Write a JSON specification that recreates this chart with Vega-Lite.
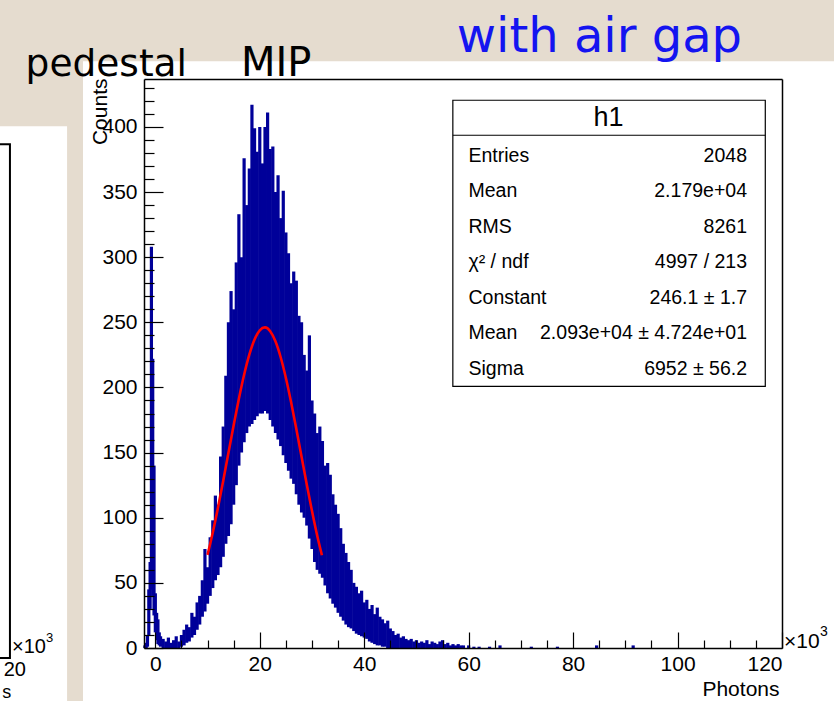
{
  "$schema": "https://vega.github.io/schema/vega-lite/v6.json",
  "width": 638,
  "height": 569,
  "autosize": {"type": "none"},
  "padding": {"left": 144, "top": 79, "right": 52, "bottom": 53},
  "background": "#e5dccf",
  "data": {"values": [{}]},
  "config": {
    "view": {"stroke": null},
    "axis": {"grid": false, "domainColor": "#000", "tickColor": "#000", "labelColor": "#000", "labelFont": "Liberation Sans", "titleFont": "Liberation Sans", "labelFontSize": 21, "titleFontSize": 21, "titleFontWeight": "normal", "titleColor": "#000", "domainWidth": 1.5, "tickWidth": 1.2}
  },
  "resolve": {"axis": {"x": "independent", "y": "independent"}},
  "layer": [
    {
      "mark": {"type": "rect", "fill": "white"},
      "encoding": {
        "x": {"datum": -13.85, "type": "quantitative", "axis": {"orient": "top", "zindex": 1, "labels": false, "ticks": false, "domain": true, "title": null}},
        "x2": {"datum": 140},
        "y": {"datum": 450.4, "type": "quantitative", "axis": {"orient": "right", "zindex": 1, "labels": false, "ticks": false, "domain": true, "title": null}},
        "y2": {"datum": -50}
      }
    },
    {
      "mark": {"type": "rect", "fill": "white"},
      "encoding": {
        "x": {"datum": -40, "type": "quantitative", "axis": null},
        "x2": {"datum": -16.9},
        "y": {"datum": 400.5, "type": "quantitative", "axis": null},
        "y2": {"datum": -50}
      }
    },
    {
      "mark": {"type": "rect", "filled": false, "stroke": "#000", "strokeWidth": 2},
      "encoding": {
        "x": {"datum": -40, "type": "quantitative", "axis": null},
        "x2": {"datum": -27.84},
        "y": {"datum": 386.7, "type": "quantitative", "axis": null},
        "y2": {"datum": -7.7}
      }
    },
    {
      "data": {"values": [
        {"x": -2.0, "lo": 0, "hi": 2}, {"x": -1.75, "lo": 0, "hi": 4}, {"x": -1.5, "lo": 1, "hi": 10}, {"x": -1.25, "lo": 10, "hi": 45},
        {"x": -1.0, "lo": 30, "hi": 66}, {"x": -0.75, "lo": 45, "hi": 308}, {"x": -0.5, "lo": 40, "hi": 222}, {"x": -0.25, "lo": 25, "hi": 140},
        {"x": 0.0, "lo": 12, "hi": 42}, {"x": 0.25, "lo": 6, "hi": 27}, {"x": 0.5, "lo": 3, "hi": 22}, {"x": 0.75, "lo": 2, "hi": 12},
        {"x": 1.0, "lo": 1, "hi": 9}, {"x": 1.5, "lo": 0, "hi": 7}, {"x": 2.0, "lo": 0, "hi": 5}, {"x": 2.5, "lo": 0, "hi": 8},
        {"x": 3.0, "lo": 0, "hi": 4}, {"x": 3.5, "lo": 0, "hi": 6}, {"x": 4.0, "lo": 0, "hi": 9}, {"x": 4.5, "lo": 0, "hi": 5},
        {"x": 5.0, "lo": 1, "hi": 10}, {"x": 5.5, "lo": 2, "hi": 14}, {"x": 6.0, "lo": 4, "hi": 18}, {"x": 6.5, "lo": 5, "hi": 16},
        {"x": 7.0, "lo": 8, "hi": 27}, {"x": 7.5, "lo": 10, "hi": 24}, {"x": 8.0, "lo": 14, "hi": 35}, {"x": 8.5, "lo": 18, "hi": 40},
        {"x": 9.0, "lo": 24, "hi": 52}, {"x": 9.5, "lo": 28, "hi": 76}, {"x": 10.0, "lo": 34, "hi": 62}, {"x": 10.5, "lo": 40, "hi": 85},
        {"x": 11.0, "lo": 46, "hi": 98}, {"x": 11.5, "lo": 52, "hi": 117}, {"x": 12.0, "lo": 56, "hi": 110}, {"x": 12.5, "lo": 62, "hi": 147},
        {"x": 13.0, "lo": 70, "hi": 170}, {"x": 13.5, "lo": 80, "hi": 209}, {"x": 14.0, "lo": 86, "hi": 250}, {"x": 14.5, "lo": 95, "hi": 274},
        {"x": 15.0, "lo": 110, "hi": 260}, {"x": 15.5, "lo": 125, "hi": 296}, {"x": 16.0, "lo": 140, "hi": 333}, {"x": 16.5, "lo": 150, "hi": 300},
        {"x": 17.0, "lo": 158, "hi": 376}, {"x": 17.5, "lo": 165, "hi": 340}, {"x": 18.0, "lo": 170, "hi": 368}, {"x": 18.5, "lo": 172, "hi": 417},
        {"x": 19.0, "lo": 175, "hi": 399}, {"x": 19.5, "lo": 178, "hi": 381}, {"x": 20.0, "lo": 180, "hi": 400}, {"x": 20.5, "lo": 180, "hi": 372},
        {"x": 21.0, "lo": 182, "hi": 400}, {"x": 21.5, "lo": 180, "hi": 411}, {"x": 22.0, "lo": 175, "hi": 383}, {"x": 22.5, "lo": 170, "hi": 385},
        {"x": 23.0, "lo": 165, "hi": 350}, {"x": 23.5, "lo": 160, "hi": 363}, {"x": 24.0, "lo": 155, "hi": 330}, {"x": 24.5, "lo": 148, "hi": 351},
        {"x": 25.0, "lo": 142, "hi": 319}, {"x": 25.5, "lo": 136, "hi": 303}, {"x": 26.0, "lo": 130, "hi": 280}, {"x": 26.5, "lo": 126, "hi": 289},
        {"x": 27.0, "lo": 118, "hi": 282}, {"x": 27.5, "lo": 110, "hi": 255}, {"x": 28.0, "lo": 104, "hi": 250}, {"x": 28.5, "lo": 100, "hi": 225},
        {"x": 29.0, "lo": 94, "hi": 213}, {"x": 29.5, "lo": 84, "hi": 240}, {"x": 30.0, "lo": 76, "hi": 190}, {"x": 30.5, "lo": 66, "hi": 180},
        {"x": 31.0, "lo": 60, "hi": 165}, {"x": 31.5, "lo": 57, "hi": 170}, {"x": 32.0, "lo": 54, "hi": 159}, {"x": 32.5, "lo": 48, "hi": 140},
        {"x": 33.0, "lo": 42, "hi": 142}, {"x": 33.5, "lo": 38, "hi": 133}, {"x": 34.0, "lo": 34, "hi": 118}, {"x": 34.5, "lo": 31, "hi": 110},
        {"x": 35.0, "lo": 27, "hi": 103}, {"x": 35.5, "lo": 24, "hi": 92}, {"x": 36.0, "lo": 21, "hi": 80}, {"x": 36.5, "lo": 18, "hi": 73},
        {"x": 37.0, "lo": 16, "hi": 66}, {"x": 37.5, "lo": 15, "hi": 60}, {"x": 38.0, "lo": 13, "hi": 50}, {"x": 38.5, "lo": 11, "hi": 47},
        {"x": 39.0, "lo": 10, "hi": 42}, {"x": 39.5, "lo": 9, "hi": 44}, {"x": 40.0, "lo": 8, "hi": 35}, {"x": 40.5, "lo": 7, "hi": 37},
        {"x": 41.0, "lo": 5, "hi": 30}, {"x": 41.5, "lo": 4, "hi": 33}, {"x": 42.0, "lo": 3, "hi": 26}, {"x": 42.5, "lo": 2, "hi": 31},
        {"x": 43.0, "lo": 2, "hi": 24}, {"x": 43.5, "lo": 1, "hi": 22}, {"x": 44.0, "lo": 1, "hi": 19}, {"x": 44.5, "lo": 0, "hi": 21},
        {"x": 45.0, "lo": 0, "hi": 15}, {"x": 45.5, "lo": 0, "hi": 13}, {"x": 46.0, "lo": 0, "hi": 10}, {"x": 46.5, "lo": 0, "hi": 11},
        {"x": 47.0, "lo": 0, "hi": 8}, {"x": 47.5, "lo": 0, "hi": 9}, {"x": 48.0, "lo": 0, "hi": 7}, {"x": 48.5, "lo": 0, "hi": 6},
        {"x": 49.0, "lo": 0, "hi": 7}, {"x": 49.5, "lo": 0, "hi": 5}, {"x": 50.0, "lo": 0, "hi": 6}, {"x": 50.5, "lo": 0, "hi": 4},
        {"x": 51.0, "lo": 0, "hi": 5}, {"x": 51.5, "lo": 0, "hi": 4}, {"x": 52.0, "lo": 0, "hi": 6}, {"x": 52.5, "lo": 0, "hi": 3},
        {"x": 53.0, "lo": 0, "hi": 5}, {"x": 53.5, "lo": 0, "hi": 4}, {"x": 54.0, "lo": 0, "hi": 3}, {"x": 54.5, "lo": 0, "hi": 5},
        {"x": 55.0, "lo": 0, "hi": 6}, {"x": 55.5, "lo": 0, "hi": 3}, {"x": 56.0, "lo": 0, "hi": 4}, {"x": 56.5, "lo": 0, "hi": 2},
        {"x": 57.0, "lo": 0, "hi": 3}, {"x": 57.5, "lo": 0, "hi": 2}, {"x": 58.0, "lo": 0, "hi": 3}, {"x": 58.5, "lo": 0, "hi": 2},
        {"x": 59.0, "lo": 0, "hi": 2}, {"x": 60.0, "lo": 0, "hi": 2}, {"x": 61.0, "lo": 0, "hi": 1}, {"x": 62.0, "lo": 0, "hi": 1},
        {"x": 64.0, "lo": 0, "hi": 1}, {"x": 66.0, "lo": 0, "hi": 2}, {"x": 72.0, "lo": 0, "hi": 1}, {"x": 77.0, "lo": 0, "hi": 1},
        {"x": 84.5, "lo": 0, "hi": 2}, {"x": 91.5, "lo": 0, "hi": 2}
      ]},
      "mark": {"type": "rule", "color": "#000099", "strokeWidth": 3.2, "strokeCap": "butt"},
      "encoding": {
        "x": {"field": "x", "type": "quantitative", "scale": {"domain": [-2.17, 120], "nice": false, "zero": false},
          "axis": {"orient": "bottom", "zindex": 1, "values": [0, 20, 40, 60, 80, 100, 120], "tickSize": -16, "labelPadding": 21, "domain": true,
            "title": "Photons", "titleAnchor": "end", "titleAlign": "right", "titleBaseline": "middle", "titleX": 635, "titleY": 41}},
        "y": {"field": "lo", "type": "quantitative", "scale": {"domain": [0, 436.8], "nice": false, "zero": false},
          "axis": {"orient": "left", "zindex": 1, "values": [0, 50, 100, 150, 200, 250, 300, 350, 400], "tickSize": -19, "labelPadding": 26, "domain": true,
            "title": "Counts", "titleAngle": 270, "titleAlign": "right", "titleBaseline": "middle", "titleX": -44, "titleY": -1}},
        "y2": {"field": "hi"}
      }
    },
    {
      "data": {"values": [
        {"x": 10, "y": 71.5}, {"x": 11, "y": 88.7}, {"x": 12, "y": 107.8}, {"x": 13, "y": 128.4}, {"x": 14, "y": 149.8},
        {"x": 15, "y": 171.0}, {"x": 16, "y": 191.4}, {"x": 17, "y": 209.8}, {"x": 18, "y": 225.2}, {"x": 19, "y": 236.8},
        {"x": 20, "y": 243.9}, {"x": 21, "y": 246.1}, {"x": 22, "y": 243.2}, {"x": 23, "y": 235.4}, {"x": 24, "y": 223.2},
        {"x": 25, "y": 207.3}, {"x": 26, "y": 188.6}, {"x": 27, "y": 168.1}, {"x": 28, "y": 146.8}, {"x": 29, "y": 125.5},
        {"x": 30, "y": 105.1}, {"x": 31, "y": 86.2}, {"x": 31.9, "y": 71.2}
      ]},
      "mark": {"type": "line", "color": "#ff0000", "strokeWidth": 2.6, "interpolate": "monotone"},
      "encoding": {
        "x": {"field": "x", "type": "quantitative",
          "axis": {"orient": "bottom", "zindex": 1, "values": [5, 10, 15, 25, 30, 35, 45, 50, 55, 65, 70, 75, 85, 90, 95, 105, 110, 115], "tickSize": -8, "labels": false, "domain": false, "title": null}},
        "y": {"field": "y", "type": "quantitative",
          "axis": {"orient": "left", "zindex": 1, "values": [10, 20, 30, 40, 60, 70, 80, 90, 110, 120, 130, 140, 160, 170, 180, 190, 210, 220, 230, 240, 260, 270, 280, 290, 310, 320, 330, 340, 360, 370, 380, 390, 410, 420, 430], "tickSize": -10, "labels": false, "domain": false, "title": null}}
      }
    },
    {
      "mark": {"type": "rect", "fill": "white", "stroke": "#000", "strokeWidth": 1.2},
      "encoding": {
        "x": {"datum": 56.97, "type": "quantitative", "axis": null},
        "x2": {"datum": 116.8},
        "y": {"datum": 420.5, "type": "quantitative", "axis": null},
        "y2": {"datum": 200.9}
      }
    },
    {
      "mark": {"type": "rule", "color": "#000", "strokeWidth": 1.2},
      "encoding": {
        "x": {"datum": 56.97, "type": "quantitative", "axis": null},
        "x2": {"datum": 116.8},
        "y": {"datum": 393.6, "type": "quantitative", "axis": null}
      }
    },
    {
      "mark": {"type": "text", "text": "h1", "font": "Liberation Sans", "fontSize": 27, "baseline": "middle", "align": "center", "color": "#000"},
      "encoding": {
        "x": {"datum": 86.78, "type": "quantitative", "axis": null},
        "y": {"datum": 407.2, "type": "quantitative", "axis": null}
      }
    },
    {
      "mark": {"type": "text", "text": ["Entries", "Mean", "RMS", "χ² / ndf", "Constant", "Mean", "Sigma"], "lineHeight": 35.43, "font": "Liberation Sans", "fontSize": 19.5, "baseline": "middle", "align": "left", "color": "#000"},
      "encoding": {
        "x": {"datum": 59.96, "type": "quantitative", "axis": null},
        "y": {"datum": 377.7, "type": "quantitative", "axis": null}
      }
    },
    {
      "mark": {"type": "text", "text": ["2048", "2.179e+04", "8261", "4997 / 213", "246.1 ± 1.7", "2.093e+04 ± 4.724e+01", "6952 ± 56.2"], "lineHeight": 35.43, "font": "Liberation Sans", "fontSize": 19.5, "baseline": "middle", "align": "right", "color": "#000"},
      "encoding": {
        "x": {"datum": 113.3, "type": "quantitative", "axis": null},
        "y": {"datum": 377.7, "type": "quantitative", "axis": null}
      }
    },
    {
      "mark": {"type": "text", "text": "×10", "font": "Liberation Sans", "fontSize": 21, "baseline": "middle", "align": "left", "dx": 2, "dy": -6, "color": "#000"},
      "encoding": {
        "x": {"datum": 120, "type": "quantitative", "axis": null},
        "y": {"datum": 0, "type": "quantitative", "axis": null}
      }
    },
    {
      "mark": {"type": "text", "text": "3", "font": "Liberation Sans", "fontSize": 14, "baseline": "middle", "align": "left", "dx": 38, "dy": -16, "color": "#000"},
      "encoding": {
        "x": {"datum": 120, "type": "quantitative", "axis": null},
        "y": {"datum": 0, "type": "quantitative", "axis": null}
      }
    },
    {
      "mark": {"type": "text", "text": "×10", "font": "Liberation Sans", "fontSize": 20, "baseline": "middle", "align": "left", "color": "#000"},
      "encoding": {
        "x": {"datum": -27.45, "type": "quantitative", "axis": null},
        "y": {"datum": 0.8, "type": "quantitative", "axis": null}
      }
    },
    {
      "mark": {"type": "text", "text": "3", "font": "Liberation Sans", "fontSize": 13, "baseline": "middle", "align": "left", "dx": 34, "dy": -9, "color": "#000"},
      "encoding": {
        "x": {"datum": -27.45, "type": "quantitative", "axis": null},
        "y": {"datum": 0.8, "type": "quantitative", "axis": null}
      }
    },
    {
      "mark": {"type": "text", "text": "20", "font": "Liberation Sans", "fontSize": 20, "baseline": "middle", "align": "center", "color": "#000"},
      "encoding": {
        "x": {"datum": -26.9, "type": "quantitative", "axis": null},
        "y": {"datum": -16.6, "type": "quantitative", "axis": null}
      }
    },
    {
      "mark": {"type": "text", "text": "s", "font": "Liberation Sans", "fontSize": 18, "baseline": "middle", "align": "left", "color": "#000"},
      "encoding": {
        "x": {"datum": -29.3, "type": "quantitative", "axis": null},
        "y": {"datum": -34.3, "type": "quantitative", "axis": null}
      }
    },
    {
      "mark": {"type": "text", "text": "pedestal", "font": "DejaVu Sans", "fontSize": 37.5, "baseline": "alphabetic", "align": "center", "color": "#000"},
      "encoding": {
        "x": {"datum": -9.39, "type": "quantitative", "axis": null},
        "y": {"datum": 438.8, "type": "quantitative", "axis": null}
      }
    },
    {
      "mark": {"type": "text", "text": "MIP", "font": "DejaVu Sans", "fontSize": 40, "baseline": "alphabetic", "align": "center", "color": "#000"},
      "encoding": {
        "x": {"datum": 23.16, "type": "quantitative", "axis": null},
        "y": {"datum": 438.8, "type": "quantitative", "axis": null}
      }
    },
    {
      "mark": {"type": "text", "text": "with air gap", "font": "DejaVu Sans", "fontSize": 48, "baseline": "alphabetic", "align": "center", "color": "#1414f0"},
      "encoding": {
        "x": {"datum": 85.04, "type": "quantitative", "axis": null},
        "y": {"datum": 457.6, "type": "quantitative", "axis": null}
      }
    }
  ]
}
